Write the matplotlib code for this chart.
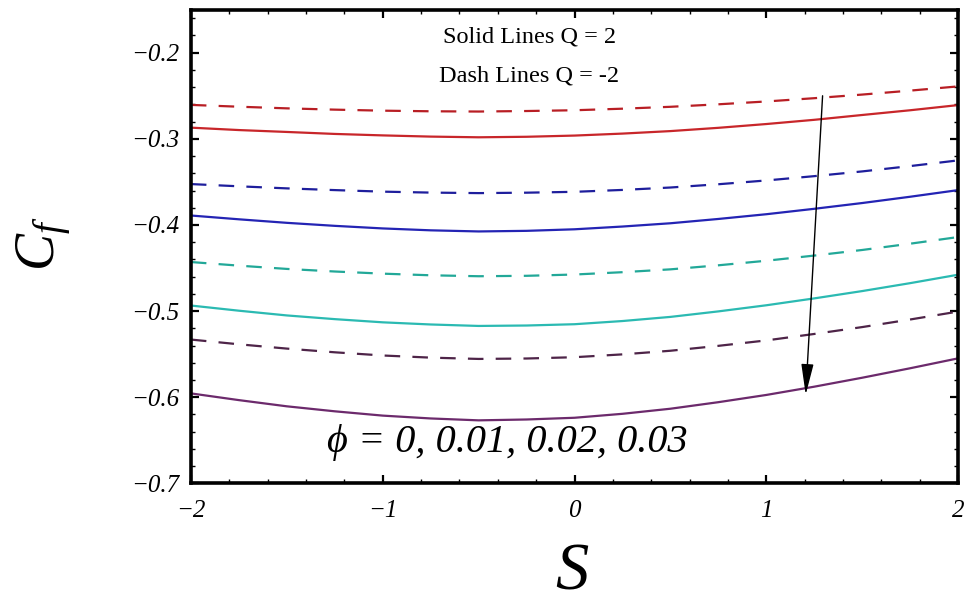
import matplotlib
matplotlib.use("Agg")
import matplotlib.pyplot as plt
from matplotlib.ticker import MultipleLocator

plt.rcParams["mathtext.fontset"] = "custom"
plt.rcParams["mathtext.it"] = "Liberation Serif:italic"
plt.rcParams["mathtext.rm"] = "Liberation Serif"

# Suction/injection parameter S
S = [-2.0, -1.75, -1.5, -1.25, -1.0, -0.75, -0.5, -0.25, 0.0,
     0.25, 0.5, 0.75, 1.0, 1.25, 1.5, 1.75, 2.0]

# Skin friction C_f, solid lines Q = 2, for phi = 0, 0.01, 0.02, 0.03
cf_q2_phi000 = [-0.2870, -0.2898, -0.2920, -0.2943, -0.2960, -0.2974, -0.2982, -0.2976, -0.2962,
                -0.2939, -0.2910, -0.2872, -0.2828, -0.2779, -0.2723, -0.2668, -0.2608]
cf_q2_phi001 = [-0.3890, -0.3934, -0.3975, -0.4010, -0.4040, -0.4062, -0.4075, -0.4068, -0.4050,
                -0.4018, -0.3980, -0.3930, -0.3875, -0.3812, -0.3745, -0.3672, -0.3595]
cf_q2_phi002 = [-0.4935, -0.4995, -0.5050, -0.5093, -0.5130, -0.5155, -0.5172, -0.5167, -0.5152,
                -0.5115, -0.5067, -0.5003, -0.4932, -0.4852, -0.4767, -0.4675, -0.4577]
cf_q2_phi003 = [-0.5955, -0.6033, -0.6105, -0.6163, -0.6213, -0.6246, -0.6268, -0.6258, -0.6238,
                -0.6192, -0.6133, -0.6057, -0.5973, -0.5877, -0.5773, -0.5663, -0.5548]

# Dashed lines Q = -2
cf_qm2_phi000 = [-0.2606, -0.2627, -0.2646, -0.2661, -0.2673, -0.2680, -0.2683, -0.2677, -0.2668,
                 -0.2650, -0.2628, -0.2599, -0.2566, -0.2528, -0.2486, -0.2440, -0.2391]
cf_qm2_phi001 = [-0.3525, -0.3551, -0.3575, -0.3595, -0.3613, -0.3624, -0.3630, -0.3625, -0.3615,
                 -0.3593, -0.3565, -0.3527, -0.3483, -0.3433, -0.3378, -0.3316, -0.3250]
cf_qm2_phi002 = [-0.4430, -0.4472, -0.4510, -0.4540, -0.4565, -0.4584, -0.4595, -0.4590, -0.4575,
                 -0.4548, -0.4515, -0.4468, -0.4415, -0.4355, -0.4290, -0.4217, -0.4140]
cf_qm2_phi003 = [-0.5330, -0.5385, -0.5435, -0.5478, -0.5515, -0.5540, -0.5555, -0.5550, -0.5535,
                 -0.5502, -0.5460, -0.5403, -0.5340, -0.5265, -0.5185, -0.5097, -0.5005]

solid_series = [cf_q2_phi000, cf_q2_phi001, cf_q2_phi002, cf_q2_phi003]
dashed_series = [cf_qm2_phi000, cf_qm2_phi001, cf_qm2_phi002, cf_qm2_phi003]
solid_colors = ["#c8262a", "#2424b4", "#2bbab2", "#6c2a6c"]
dashed_colors = ["#b81e24", "#1e1e9c", "#22a898", "#4e2448"]

x_ticks = [-2, -1, 0, 1, 2]
x_labels = ["\u22122", "\u22121", "0", "1", "2"]
y_ticks = [-0.7, -0.6, -0.5, -0.4, -0.3, -0.2]
y_labels = ["\u22120.7", "\u22120.6", "\u22120.5", "\u22120.4", "\u22120.3", "\u22120.2"]

fig = plt.figure(figsize=(9.64, 6.02), dpi=100)
ax = fig.add_axes([0.198, 0.197, 0.796, 0.787])

for ys, c in zip(solid_series, solid_colors):
    ax.plot(S, ys, color=c, lw=1.6, solid_joinstyle="round")
for ys, c in zip(dashed_series, dashed_colors):
    ax.plot(S, ys, color=c, lw=1.6, dashes=(7, 5.5))

ax.set_xlim(-2, 2)
ax.set_ylim(-0.7, -0.15)

ax.xaxis.set_minor_locator(MultipleLocator(0.2))
ax.yaxis.set_minor_locator(MultipleLocator(0.02))

ax.tick_params(which="both", direction="in", top=True, right=True, colors="black")
ax.tick_params(which="major", length=6, width=1.6)
ax.tick_params(which="minor", length=3, width=1.0)
ax.tick_params(axis="x", which="major", pad=12)
ax.tick_params(axis="y", which="major", pad=8)

for sp in ax.spines.values():
    sp.set_linewidth(2.6)
    sp.set_color("black")

ax.set_xticks(x_ticks)
ax.set_xticklabels(x_labels, fontfamily="Liberation Serif", fontstyle="italic", fontsize=18)
ax.set_yticks(y_ticks)
ax.set_yticklabels(y_labels, fontfamily="Liberation Serif", fontstyle="italic", fontsize=18)

fig.text(0.593, 0.048, "S", fontfamily="Liberation Serif", fontstyle="italic",
         fontsize=48, ha="center", va="center")
fig.text(0.046, 0.595, r"$C_f$", fontsize=40, rotation=90, ha="center", va="center")

ax.text(-0.235, -0.1812, "Solid Lines Q = 2", fontfamily="Liberation Serif",
        fontsize=17.5, ha="center", va="center")
ax.text(-0.235, -0.2265, "Dash Lines Q = -2", fontfamily="Liberation Serif",
        fontsize=17.5, ha="center", va="center")

ax.text(-1.29, -0.652, "\u03d5 = 0, 0.01, 0.02, 0.03",
        fontfamily=["Liberation Serif", "DejaVu Serif"], fontstyle="italic",
        fontsize=29, ha="left", va="center")

ax.annotate("", xy=(1.205, -0.597), xytext=(1.293, -0.250),
            arrowprops=dict(arrowstyle="-|>,head_length=1.9,head_width=0.38",
                            color="black", lw=1.0, shrinkA=0, shrinkB=0))

fig.savefig("out.png", dpi=100, facecolor="white")
